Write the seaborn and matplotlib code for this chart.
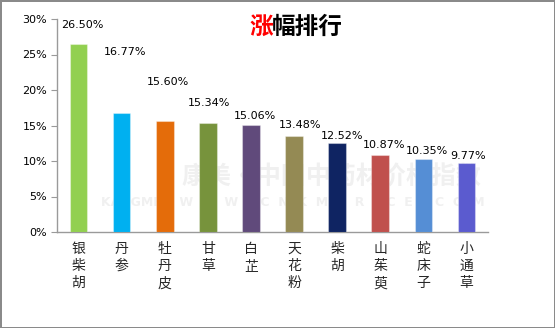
import matplotlib
matplotlib.use("Agg")
import matplotlib.pyplot as plt
import seaborn as sns
from matplotlib.ticker import FuncFormatter

# ---- data ----
categories = ["银柴胡", "丹参", "牡丹皮", "甘草", "白芷", "天花粉", "柴胡", "山茱萸", "蛇床子", "小通草"]
values = [26.50, 16.77, 15.60, 15.34, 15.06, 13.48, 12.52, 10.87, 10.35, 9.77]
value_labels = ["26.50%", "16.77%", "15.60%", "15.34%", "15.06%", "13.48%", "12.52%", "10.87%", "10.35%", "9.77%"]
y_ticks = [0, 5, 10, 15, 20, 25, 30]
title_first = "涨"
title_rest = "幅排行"

# ---- style ----
colors = ["#92d050", "#00b0f0", "#e46c0a", "#77933c", "#604a7b",
          "#948a54", "#0f2462", "#c0504d", "#558ed5", "#5b5bcf"]
label_dx = [4, 3, 3.5, 1.5, 4.5, 6.5, 4.5, 3.5, 3.5, 2]      # pixels
label_dy = [19, 61, 39, 20, 9, 11, 7, 10, 8, 7]             # pixels above bar top

sns.set_theme(style="white")
plt.rcParams["font.family"] = ["DejaVu Sans", "Noto Sans CJK SC"]

fig = plt.figure(figsize=(5.55, 3.28), dpi=100, facecolor="white",
                 edgecolor="#8a8a8a", linewidth=2)
ax = fig.add_axes([57 / 555, 1 - 232 / 328, (488 - 57) / 555, (232 - 19) / 328])
ax.set_facecolor("none")

# watermark (behind bars)
ax.text(331 / 555, 1 - 178 / 328, "康美·中国中药材价格指数", ha="center", va="center",
        fontsize=18, fontweight="bold", color="#f0f0f0", family="Noto Sans CJK SC",
        transform=fig.transFigure, zorder=1)
ax.text(293 / 555, 1 - 202 / 328, "KANGMEI   W  W  W  .  C  N  K  M  P  R  I  C  E  .  C  O  M",
        ha="center", va="center", fontsize=9, fontweight="bold", color="#f0f0f0",
        transform=fig.transFigure, zorder=1)

sns.barplot(x=categories, y=values, hue=categories, palette=colors, legend=False,
            width=0.41, ax=ax, saturation=1, zorder=3)
for p in ax.patches:
    p.set_edgecolor((1, 1, 1, 0.35))
    p.set_linewidth(0.8)

ax.set_ylim(0, 30)
ax.set_xlim(-0.5, len(categories) - 0.5)
ax.set_yticks(y_ticks)
ax.yaxis.set_major_formatter(FuncFormatter(lambda v, _: f"{v:.0f}%"))
ax.set_xticks(range(len(categories)))
ax.set_xticklabels(["\n".join(c) for c in categories], family="Noto Sans CJK SC",
                   fontsize=10, linespacing=1.3, va="top")
ax.tick_params(axis="x", length=0, pad=7)
ax.tick_params(axis="y", length=4, width=0.8, color="#9a9a9a", left=True, labelsize=8, pad=3)
for lab in ax.get_yticklabels():
    lab.set_color("black")

for s in ["top", "right"]:
    ax.spines[s].set_visible(False)
for s in ["left", "bottom"]:
    ax.spines[s].set_color("#9a9a9a")
    ax.spines[s].set_linewidth(1)
ax.set_xlabel("")
ax.set_ylabel("")

for i, (v, t) in enumerate(zip(values, value_labels)):
    ax.annotate(t, xy=(i, v), xytext=(label_dx[i], label_dy[i]), textcoords="offset pixels",
                ha="center", va="center", fontsize=8, color="black", zorder=5)

fig.text(249 / 555, 1 - 27 / 328, title_first, ha="left", va="center", fontsize=17,
         fontweight="bold", color="#ff0000", family="Noto Sans CJK SC")
fig.text(272 / 555, 1 - 27 / 328, title_rest, ha="left", va="center", fontsize=17,
         fontweight="bold", color="black", family="Noto Sans CJK SC")

fig.savefig("out.png", dpi=100, facecolor="white", edgecolor="#8a8a8a")
